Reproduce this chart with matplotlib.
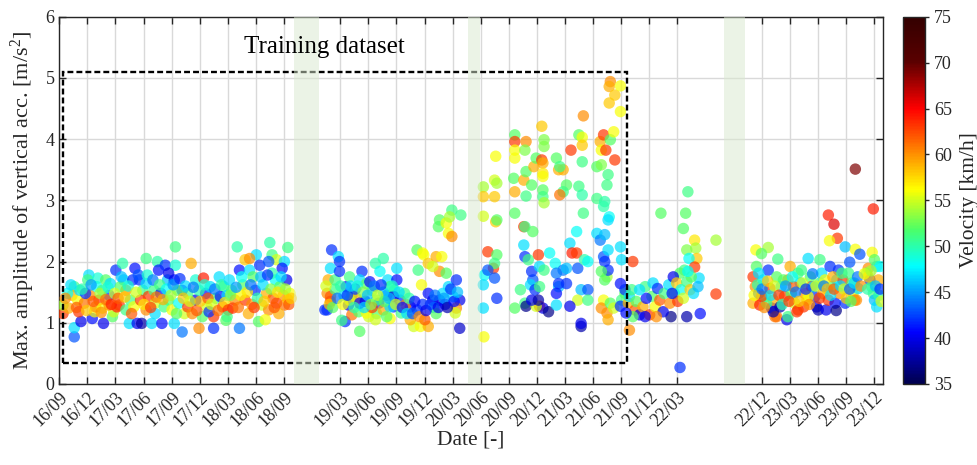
import matplotlib
matplotlib.use("Agg")
import matplotlib.pyplot as plt
from matplotlib.colors import Normalize, LinearSegmentedColormap
from matplotlib.cm import ScalarMappable
from matplotlib.patches import Rectangle
import matplotlib.transforms as mtransforms
import numpy as np

plt.rcParams['font.family'] = ['Liberation Serif', 'DejaVu Serif']
plt.rcParams['mathtext.fontset'] = 'custom'
plt.rcParams['mathtext.rm'] = 'Liberation Serif'
plt.rcParams['mathtext.it'] = 'Liberation Serif:italic'

# Measurement campaigns: (decimal year, max. vertical acceleration [m/s^2], velocity [km/h])
campaign_2016_2018 = [
    (2016.70, 1.15, 63), (2016.70, 1.29, 54), (2016.80, 0.77, 43), (2016.80, 0.92, 47),
    (2016.86, 1.02, 40), (2016.80, 1.59, 51), (2016.78, 1.45, 59), (2016.83, 1.37, 56),
    (2016.85, 1.53, 47), (2016.93, 1.78, 47), (2016.92, 1.70, 51), (2016.89, 1.32, 61),
    (2016.94, 1.45, 60), (2016.96, 1.07, 41), (2016.98, 1.18, 56), (2017.00, 1.59, 48),
    (2017.01, 1.73, 49), (2017.02, 1.37, 63), (2017.06, 0.99, 40), (2017.08, 1.70, 52),
    (2017.11, 1.45, 42), (2017.14, 1.10, 52), (2017.15, 1.18, 55), (2017.17, 1.86, 42),
    (2017.18, 1.26, 64), (2017.20, 1.29, 63), (2017.23, 1.97, 50), (2017.24, 1.70, 47),
    (2017.26, 1.53, 60), (2017.29, 0.99, 47), (2017.30, 1.37, 51), (2017.34, 1.89, 41),
    (2017.36, 0.99, 40), (2017.40, 0.99, 38), (2017.38, 1.70, 42), (2017.41, 1.53, 51),
    (2017.44, 2.05, 51), (2017.44, 1.21, 60), (2017.46, 1.43, 63), (2017.49, 0.99, 47),
    (2017.54, 2.00, 50), (2017.55, 1.86, 41), (2017.58, 0.99, 41), (2017.61, 1.94, 42),
    (2017.63, 1.70, 46), (2017.64, 1.37, 52), (2017.69, 0.99, 47), (2017.70, 1.94, 49),
    (2017.70, 2.24, 51), (2017.69, 1.70, 41), (2017.76, 0.85, 44), (2017.76, 1.53, 41),
    (2017.78, 1.15, 55), (2017.84, 1.97, 59), (2017.88, 1.70, 49), (2017.88, 1.37, 40),
    (2017.91, 0.91, 60), (2017.95, 1.73, 64), (2017.94, 1.10, 52), (2017.97, 1.48, 41),
    (2018.04, 0.91, 42), (2018.04, 1.10, 63), (2018.01, 1.59, 47), (2018.09, 1.75, 47),
    (2018.13, 1.59, 51), (2018.15, 1.04, 52), (2018.12, 1.26, 63), (2016.74, 1.48, 48),
    (2016.75, 1.24, 59), (2016.84, 1.18, 63), (2016.90, 1.48, 42), (2016.99, 1.26, 60),
    (2017.05, 1.53, 51), (2017.05, 1.24, 56), (2017.12, 1.64, 47), (2017.11, 1.29, 60),
    (2017.21, 1.59, 52), (2017.26, 1.21, 51), (2017.32, 1.70, 42), (2017.33, 1.26, 56),
    (2017.39, 1.37, 63), (2017.44, 1.64, 47), (2017.51, 1.53, 51), (2017.52, 1.32, 55),
    (2017.52, 1.15, 47), (2017.57, 1.48, 41), (2017.60, 1.26, 51), (2017.64, 1.81, 40),
    (2017.67, 1.21, 56), (2017.72, 1.53, 52), (2017.73, 1.32, 48), (2017.81, 1.26, 63),
    (2017.81, 1.48, 51), (2017.85, 1.15, 60), (2017.91, 1.53, 50), (2017.98, 1.26, 55),
    (2018.00, 1.18, 42), (2018.06, 1.40, 52), (2018.10, 1.43, 41), (2018.16, 1.45, 47),
    (2016.72, 1.40, 60), (2016.77, 1.62, 47), (2016.82, 1.25, 62), (2016.87, 1.55, 50),
    (2016.91, 1.20, 58), (2016.95, 1.62, 45), (2016.97, 1.35, 62), (2017.03, 1.48, 54),
    (2017.04, 1.17, 60), (2017.08, 1.38, 61), (2017.10, 1.58, 49), (2017.13, 1.30, 64),
    (2017.16, 1.48, 55), (2017.19, 1.40, 62), (2017.22, 1.75, 46), (2017.25, 1.42, 58),
    (2017.28, 1.60, 49), (2017.31, 1.15, 62), (2017.35, 1.50, 55), (2017.37, 1.78, 43),
    (2017.42, 1.30, 57), (2017.45, 1.78, 49), (2017.48, 1.25, 63), (2017.50, 1.70, 44),
    (2017.53, 1.42, 61), (2017.56, 1.62, 51), (2017.59, 1.38, 59), (2017.62, 1.55, 48),
    (2017.66, 1.45, 54), (2017.68, 1.62, 45), (2017.71, 1.15, 52), (2017.74, 1.72, 42),
    (2017.77, 1.40, 58), (2017.79, 1.60, 47), (2017.83, 1.35, 55), (2017.86, 1.58, 44),
    (2017.89, 1.20, 62), (2017.92, 1.35, 58), (2017.96, 1.62, 49), (2017.99, 1.40, 62),
    (2018.02, 1.30, 55), (2018.05, 1.55, 44), (2018.08, 1.20, 61), (2018.11, 1.62, 50),
    (2018.14, 1.33, 57),
    (2018.25, 2.24, 50), (2018.54, 2.31, 50), (2018.70, 2.23, 51), (2018.42, 2.11, 47),
    (2018.32, 2.03, 58), (2018.36, 2.05, 60), (2018.56, 2.11, 51), (2018.60, 2.03, 55),
    (2018.67, 2.00, 47), (2018.27, 1.86, 41), (2018.36, 1.86, 47), (2018.45, 1.94, 42),
    (2018.53, 2.00, 43), (2018.65, 1.89, 41), (2018.69, 1.70, 40), (2018.18, 1.70, 47),
    (2018.20, 1.53, 51), (2018.23, 1.37, 60), (2018.17, 1.21, 63), (2018.30, 1.62, 52),
    (2018.32, 1.37, 63), (2018.35, 1.15, 59), (2018.41, 1.53, 42), (2018.44, 1.02, 52),
    (2018.27, 0.91, 44), (2018.47, 1.29, 55), (2018.51, 1.48, 59), (2018.53, 1.21, 60),
    (2018.59, 1.70, 48), (2018.60, 1.32, 63), (2018.66, 1.45, 60), (2018.67, 1.29, 61),
    (2018.72, 1.48, 56), (2018.63, 1.59, 52), (2018.56, 1.81, 50), (2018.39, 1.75, 52),
    (2018.16, 1.10, 51), (2018.21, 1.24, 63), (2018.28, 1.45, 56), (2018.38, 1.30, 60),
    (2018.48, 1.62, 47), (2018.57, 1.40, 62), (2018.62, 1.15, 59), (2018.70, 1.38, 58),
    (2018.50, 1.05, 56), (2018.43, 1.40, 50), (2018.19, 1.45, 53), (2018.24, 1.58, 45),
    (2018.26, 1.25, 61), (2018.29, 1.75, 48), (2018.34, 1.50, 57), (2018.37, 1.62, 44),
    (2018.40, 1.25, 63), (2018.46, 1.75, 46), (2018.49, 1.35, 58), (2018.52, 1.78, 42),
    (2018.55, 1.55, 53), (2018.58, 1.25, 62), (2018.61, 1.50, 57), (2018.64, 1.75, 47),
    (2018.68, 1.55, 54), (2018.71, 1.30, 62), (2018.73, 1.40, 58),
]

campaign_2019_2020 = [
    (2019.09, 2.19, 42), (2019.15, 2.08, 47), (2019.16, 2.00, 42), (2019.08, 1.89, 47),
    (2019.06, 1.70, 59), (2019.05, 1.48, 60), (2019.08, 1.35, 63), (2019.03, 1.21, 42),
    (2019.12, 1.70, 51), (2019.16, 1.84, 42), (2019.22, 1.59, 41), (2019.25, 1.75, 51),
    (2019.27, 1.45, 52), (2019.24, 1.29, 40), (2019.21, 1.02, 42), (2019.27, 1.13, 61),
    (2019.34, 0.86, 52), (2019.31, 1.40, 59), (2019.36, 1.84, 42), (2019.34, 1.70, 47),
    (2019.40, 1.64, 52), (2019.39, 1.35, 40), (2019.42, 1.10, 55), (2019.48, 1.97, 50),
    (2019.55, 2.05, 50), (2019.52, 1.84, 48), (2019.45, 1.53, 51), (2019.51, 1.32, 42),
    (2019.49, 1.15, 52), (2019.59, 1.70, 47), (2019.58, 1.45, 41), (2019.61, 1.07, 56),
    (2019.64, 1.26, 42), (2019.67, 1.89, 47), (2019.65, 1.53, 51), (2019.33, 1.18, 52),
    (2019.18, 1.04, 51), (2019.85, 2.19, 52), (2019.91, 2.11, 56), (2019.86, 1.86, 51),
    (2019.95, 1.97, 58), (2020.02, 2.08, 59), (2020.07, 2.08, 56), (2020.05, 1.84, 60),
    (2020.11, 1.81, 52), (2019.89, 1.62, 56), (2019.99, 1.92, 55), (2020.04, 2.57, 52),
    (2020.05, 2.68, 52), (2020.11, 2.63, 56), (2020.13, 2.46, 56), (2020.16, 2.41, 60),
    (2020.16, 2.84, 51), (2020.24, 2.76, 51), (2020.13, 1.59, 47), (2020.20, 1.70, 42),
    (2020.23, 1.37, 40), (2020.23, 0.91, 39), (2020.20, 1.24, 60), (2019.95, 1.48, 41),
    (2019.99, 1.37, 40), (2020.05, 1.37, 40), (2020.08, 1.48, 47), (2020.17, 1.43, 47),
    (2020.19, 1.16, 55), (2019.85, 1.21, 42), (2019.82, 0.94, 55), (2019.88, 0.94, 56),
    (2019.79, 1.05, 59), (2019.95, 0.94, 59), (2019.79, 1.26, 40), (2019.71, 1.16, 51),
    (2019.70, 1.37, 42), (2019.74, 1.48, 51), (2019.67, 1.70, 41), (2019.61, 1.59, 52),
    (2019.43, 1.67, 41), (2019.49, 1.37, 51), (2019.55, 1.21, 59), (2019.61, 1.26, 47),
    (2019.64, 1.43, 40), (2019.08, 1.43, 62), (2019.05, 1.21, 42), (2019.25, 1.37, 55),
    (2019.34, 1.32, 40), (2019.40, 1.16, 56), (2019.48, 1.05, 55), (2019.58, 1.10, 52),
    (2019.90, 2.14, 56), (2020.14, 2.73, 54), (2019.12, 1.55, 51), (2019.20, 1.45, 47),
    (2019.30, 1.55, 42), (2019.45, 1.25, 63), (2019.55, 1.50, 47), (2019.75, 1.30, 60),
    (2019.90, 1.30, 42), (2020.00, 1.25, 47), (2020.10, 1.30, 41), (2020.15, 1.55, 42),
    (2019.92, 1.05, 62), (2020.02, 1.15, 52), (2019.04, 1.60, 55), (2019.07, 1.30, 58),
    (2019.10, 1.25, 52), (2019.14, 1.40, 44), (2019.17, 1.60, 50), (2019.19, 1.30, 56),
    (2019.23, 1.45, 42), (2019.26, 1.60, 47), (2019.29, 1.25, 50), (2019.32, 1.60, 49),
    (2019.37, 1.50, 53), (2019.38, 1.25, 47), (2019.41, 1.45, 46), (2019.44, 1.30, 53),
    (2019.47, 1.60, 44), (2019.50, 1.45, 55), (2019.53, 1.62, 42), (2019.56, 1.35, 52),
    (2019.60, 1.40, 46), (2019.63, 1.60, 49), (2019.66, 1.30, 55), (2019.69, 1.50, 47),
    (2019.72, 1.25, 41), (2019.76, 1.15, 47), (2019.78, 1.40, 50), (2019.81, 1.15, 43),
    (2019.83, 1.35, 41), (2019.87, 1.10, 60), (2019.93, 1.20, 40), (2019.97, 1.30, 42),
    (2020.01, 1.45, 44), (2020.04, 1.25, 40), (2020.09, 1.40, 45), (2020.12, 1.25, 38),
    (2020.18, 1.35, 41), (2020.21, 1.50, 46),
]

campaign_2020_2021 = [
    (2020.445, 0.77, 56), (2020.44, 1.24, 47), (2020.44, 3.22, 54), (2020.44, 3.06, 58),
    (2020.44, 2.74, 55), (2020.54, 3.06, 58), (2020.54, 3.33, 55), (2020.56, 3.28, 54),
    (2020.55, 3.72, 56), (2020.55, 2.65, 58), (2020.56, 2.68, 52), (2020.48, 2.16, 63),
    (2020.56, 2.11, 52), (2020.53, 1.89, 63), (2020.54, 1.97, 51), (2020.45, 1.78, 48),
    (2020.48, 1.86, 43), (2020.54, 1.73, 43), (2020.44, 1.62, 47), (2020.56, 1.40, 42),
    (2020.72, 4.07, 52), (2020.72, 3.96, 63), (2020.72, 3.82, 56), (2020.72, 3.69, 56),
    (2020.71, 3.36, 52), (2020.72, 3.14, 59), (2020.72, 2.79, 52), (2020.80, 2.57, 63),
    (2020.81, 2.57, 51), (2020.88, 2.49, 52), (2020.82, 3.96, 60), (2020.81, 3.82, 53),
    (2020.80, 3.33, 59), (2020.82, 3.47, 52), (2020.82, 3.07, 51), (2020.87, 3.25, 52),
    (2020.89, 3.55, 59), (2020.91, 3.69, 52), (2020.96, 4.21, 58), (2020.98, 3.99, 53),
    (2020.98, 3.88, 53), (2020.96, 3.66, 63), (2020.97, 3.61, 59), (2020.97, 3.44, 57),
    (2020.97, 3.39, 56), (2020.97, 3.17, 52), (2020.97, 3.06, 51), (2020.98, 2.96, 54),
    (2021.09, 3.69, 52), (2021.11, 3.50, 59), (2021.15, 3.50, 59), (2021.12, 3.55, 51),
    (2021.18, 3.25, 52), (2021.15, 3.14, 51), (2021.12, 3.09, 61), (2021.22, 3.82, 63),
    (2021.29, 4.07, 52), (2021.32, 4.03, 56), (2021.32, 3.90, 58), (2021.33, 4.38, 60),
    (2021.32, 3.63, 51), (2021.29, 3.23, 51), (2021.32, 3.09, 50), (2021.33, 2.79, 51),
    (2021.45, 3.55, 52), (2021.45, 3.03, 51), (2021.49, 3.58, 53), (2021.48, 3.96, 59),
    (2021.51, 4.07, 63), (2021.49, 3.82, 56), (2021.53, 3.82, 63), (2021.57, 3.99, 52),
    (2021.60, 4.12, 56), (2021.61, 3.66, 63), (2021.55, 3.42, 51), (2021.54, 3.25, 51),
    (2021.51, 2.90, 50), (2021.52, 2.98, 50), (2021.56, 2.73, 48), (2021.55, 2.68, 47),
    (2021.57, 4.94, 60), (2021.56, 4.86, 59), (2021.61, 4.72, 58), (2021.56, 4.59, 58),
    (2021.66, 4.87, 56), (2021.66, 4.45, 56), (2020.72, 1.24, 52), (2020.81, 1.32, 51),
    (2020.82, 1.27, 37), (2020.80, 2.27, 47), (2020.81, 2.08, 42), (2020.84, 2.03, 51),
    (2020.88, 1.70, 43), (2020.87, 1.84, 42), (2020.86, 1.62, 47), (2020.90, 1.54, 42),
    (2020.93, 2.11, 63), (2020.94, 1.92, 47), (2020.98, 1.86, 51), (2021.03, 2.14, 48),
    (2021.08, 1.97, 48), (2021.09, 1.81, 44), (2021.11, 1.59, 46), (2021.15, 1.86, 44),
    (2021.18, 1.89, 46), (2021.21, 2.30, 47), (2021.27, 2.49, 48), (2021.23, 2.14, 64),
    (2021.27, 2.14, 63), (2021.28, 1.89, 43), (2021.31, 1.54, 46), (2021.34, 2.03, 50),
    (2021.37, 2.00, 48), (2021.37, 1.54, 43), (2021.11, 1.64, 42), (2021.09, 1.48, 41),
    (2021.18, 1.64, 42), (2021.31, 0.94, 38), (2021.31, 0.99, 40), (2021.28, 1.37, 55),
    (2021.21, 1.27, 40), (2021.37, 1.37, 51), (2020.94, 1.27, 63), (2020.97, 1.24, 40),
    (2021.02, 1.18, 37), (2020.91, 1.27, 55), (2020.87, 1.37, 40), (2020.93, 1.37, 38),
    (2021.09, 1.29, 47), (2020.94, 1.59, 51), (2020.77, 1.54, 51), (2021.45, 2.46, 47),
    (2021.48, 2.35, 44), (2021.52, 2.44, 46), (2021.51, 2.08, 43), (2021.55, 2.19, 47),
    (2021.52, 2.00, 42), (2021.54, 1.75, 54), (2021.52, 1.70, 52), (2021.55, 1.86, 42),
    (2021.49, 1.84, 52), (2021.66, 2.24, 47), (2021.66, 1.64, 41), (2021.67, 2.03, 47),
    (2021.51, 1.37, 56), (2021.49, 1.24, 60), (2021.54, 1.16, 60), (2021.55, 1.05, 59),
    (2021.57, 1.32, 52), (2021.60, 1.24, 55), (2021.67, 1.37, 51), (2021.66, 1.27, 42),
    (2021.70, 1.48, 52),
]

campaign_2021_2022 = [
    (2021.74, 0.88, 60), (2021.77, 2.00, 63), (2022.26, 3.14, 51), (2022.02, 2.79, 52),
    (2022.24, 2.79, 52), (2022.22, 2.54, 52), (2022.51, 2.35, 54), (2022.32, 2.35, 57),
    (2022.33, 2.22, 54), (2022.25, 2.19, 53), (2022.34, 2.05, 58), (2022.27, 2.05, 48),
    (2022.32, 1.91, 63), (2022.23, 1.86, 51), (2022.36, 1.73, 47), (2022.19, 1.81, 52),
    (2022.51, 1.47, 63), (2022.37, 1.15, 41), (2022.25, 1.10, 38), (2022.11, 1.10, 37),
    (2022.19, 0.27, 42), (2021.70, 1.54, 42), (2021.73, 1.32, 59), (2021.74, 1.43, 47),
    (2021.79, 1.21, 62), (2021.80, 1.35, 52), (2021.83, 1.13, 40), (2021.86, 1.26, 59),
    (2021.88, 1.59, 51), (2021.92, 1.13, 63), (2021.94, 1.43, 52), (2021.95, 1.65, 47),
    (2021.97, 1.26, 56), (2021.99, 1.56, 42), (2022.01, 1.37, 62), (2022.04, 1.18, 40),
    (2022.05, 1.48, 51), (2022.09, 1.62, 47), (2022.10, 1.32, 60), (2022.13, 1.75, 40),
    (2022.14, 1.48, 52), (2022.16, 1.65, 58), (2022.17, 1.35, 63), (2022.20, 1.54, 48),
    (2022.22, 1.40, 55), (2022.25, 1.67, 51), (2022.28, 1.54, 58), (2022.29, 1.75, 52),
    (2022.31, 1.48, 47), (2022.35, 1.59, 46), (2022.26, 1.84, 48), (2021.89, 1.40, 41),
    (2021.77, 1.10, 52), (2021.98, 1.10, 60), (2021.88, 1.10, 40), (2021.71, 1.16, 41),
    (2021.76, 1.54, 51), (2021.83, 1.54, 47), (2022.12, 1.48, 41),
]

campaign_2022_2023 = [
    (2023.75, 3.51, 69), (2023.91, 2.86, 64), (2023.51, 2.76, 64), (2023.56, 2.61, 66),
    (2023.59, 2.38, 63), (2023.52, 2.34, 56), (2023.66, 2.24, 46), (2023.75, 2.20, 56),
    (2023.79, 2.12, 43), (2023.90, 2.15, 56), (2022.865, 2.19, 56), (2022.975, 2.23, 54),
    (2022.915, 2.13, 52), (2023.06, 2.04, 51), (2023.70, 1.99, 43), (2022.87, 1.92, 52),
    (2023.33, 2.05, 47), (2023.435, 2.03, 51), (2023.865, 1.89, 60), (2023.94, 1.92, 47),
    (2023.92, 2.03, 52), (2022.84, 1.75, 63), (2022.86, 1.59, 60), (2022.84, 1.32, 59),
    (2022.89, 1.48, 42), (2022.90, 1.29, 64), (2022.93, 1.70, 47), (2022.95, 1.43, 51),
    (2022.975, 1.86, 42), (2022.99, 1.56, 63), (2023.005, 1.24, 40), (2023.02, 1.37, 59),
    (2023.05, 1.75, 52), (2023.05, 1.10, 61), (2023.08, 1.26, 38), (2023.09, 1.59, 47),
    (2023.12, 1.43, 63), (2023.14, 1.05, 40), (2023.15, 1.70, 60), (2023.17, 1.92, 59),
    (2023.18, 1.48, 52), (2023.21, 1.32, 55), (2023.24, 1.21, 63), (2023.26, 1.65, 47),
    (2023.27, 1.86, 51), (2023.30, 1.48, 60), (2023.32, 1.37, 56), (2023.35, 1.75, 52),
    (2023.36, 1.59, 63), (2023.39, 1.43, 42), (2023.405, 1.26, 40), (2023.42, 1.21, 38),
    (2023.435, 1.65, 51), (2023.45, 1.81, 47), (2023.46, 1.48, 59), (2023.49, 1.21, 40),
    (2023.51, 1.37, 63), (2023.525, 1.92, 42), (2023.54, 1.59, 52), (2023.57, 1.32, 41),
    (2023.585, 1.70, 47), (2023.60, 1.86, 42), (2023.61, 1.48, 60), (2023.64, 1.70, 63),
    (2023.66, 1.32, 42), (2023.69, 1.81, 51), (2023.72, 1.65, 52), (2023.73, 1.48, 55),
    (2023.745, 1.37, 60), (2023.775, 1.56, 47), (2023.76, 1.37, 60), (2023.85, 1.81, 52),
    (2023.88, 1.70, 42), (2023.895, 1.59, 52), (2023.91, 1.48, 51), (2023.92, 1.37, 46),
    (2023.94, 1.26, 47), (2023.97, 1.92, 48), (2023.955, 1.70, 59), (2023.865, 1.75, 58),
    (2023.035, 1.10, 61), (2023.15, 1.10, 51), (2023.23, 1.18, 63), (2023.02, 1.18, 38),
    (2022.96, 1.32, 51), (2023.29, 1.26, 63), (2023.33, 1.43, 56), (2023.375, 1.59, 47),
    (2023.20, 1.59, 62), (2023.11, 1.70, 52), (2023.24, 1.81, 51), (2023.48, 1.70, 56),
    (2023.55, 1.75, 59), (2023.63, 1.81, 51), (2022.89, 1.81, 47), (2022.915, 1.43, 63),
    (2022.85, 1.45, 56), (2022.88, 1.62, 50), (2022.92, 1.55, 44), (2022.94, 1.25, 60),
    (2022.97, 1.68, 58), (2023.00, 1.45, 47), (2023.03, 1.60, 55), (2023.07, 1.45, 63),
    (2023.10, 1.30, 50), (2023.13, 1.60, 45), (2023.16, 1.35, 63), (2023.19, 1.75, 48),
    (2023.22, 1.50, 44), (2023.25, 1.35, 58), (2023.28, 1.65, 55), (2023.31, 1.55, 42),
    (2023.34, 1.30, 60), (2023.37, 1.80, 44), (2023.40, 1.60, 55), (2023.43, 1.40, 63),
    (2023.47, 1.60, 44), (2023.50, 1.55, 58), (2023.53, 1.45, 47), (2023.56, 1.55, 62),
    (2023.58, 1.20, 37), (2023.62, 1.60, 47), (2023.65, 1.55, 55), (2023.67, 1.40, 58),
    (2023.70, 1.55, 43), (2023.71, 1.35, 52), (2023.74, 1.65, 47), (2023.77, 1.75, 44),
    (2023.80, 1.60, 60), (2023.83, 1.80, 56), (2023.86, 1.55, 50), (2023.89, 1.85, 54),
    (2023.93, 1.60, 46), (2023.96, 1.45, 50), (2023.98, 1.35, 55), (2023.97, 1.55, 42),
]

# Periods without measurements (shaded)
gap_periods = [(2018.755, 2018.978), (2020.306, 2020.41), (2022.581, 2022.767)]

# Training window
train_start, train_end = 2016.697, 2021.715
train_low, train_high = 0.35, 5.10

tick_labels = ['16/09', '16/12', '17/03', '17/06', '17/09', '17/12', '18/03', '18/06',
               '18/09', '19/03', '19/06', '19/09', '19/12', '20/03', '20/06', '20/09',
               '20/12', '21/03', '21/06', '21/09', '21/12', '22/03', '22/12', '23/03',
               '23/06', '23/09', '23/12']

vel_min, vel_max = 35, 75


def label_to_year(lbl):
    yy, mm = lbl.split('/')
    return 2000 + int(yy) + (int(mm) - 1) / 12.0


# jet-like map running from navy through blue, cyan, green, yellow, red to deep maroon
vel_cmap = LinearSegmentedColormap.from_list('velocity', [
    (0.00, (0.00, 0.00, 0.30)),
    (0.14, (0.00, 0.00, 1.00)),
    (0.32, (0.00, 1.00, 1.00)),
    (0.42, (0.30, 1.00, 0.40)),
    (0.53, (1.00, 1.00, 0.00)),
    (0.75, (1.00, 0.00, 0.00)),
    (0.88, (0.35, 0.00, 0.00)),
    (1.00, (0.20, 0.00, 0.00)),
], N=256)

campaigns = [campaign_2016_2018, campaign_2019_2020, campaign_2020_2021,
             campaign_2021_2022, campaign_2022_2023]
rows = np.array([r for c in campaigns for r in c], dtype=float)
years, amps, vels = rows[:, 0], rows[:, 1], rows[:, 2]

fig = plt.figure(figsize=(9.78, 4.65), dpi=100)
ax = fig.add_axes([0.0606, 0.1742, 0.8419, 0.7899])
cax = fig.add_axes([0.9230, 0.1742, 0.0228, 0.7899])

ink = '#262626'
norm = Normalize(vmin=vel_min, vmax=vel_max)

ax.scatter(years, amps, c=vels, cmap=vel_cmap, norm=norm, s=68, alpha=0.7,
           edgecolors='none', zorder=3)

ax.add_patch(Rectangle((train_start, train_low), train_end - train_start,
                       train_high - train_low, fill=False, edgecolor='black',
                       linewidth=1.7, linestyle=(0, (2.5, 1.3)), zorder=4))
for a, b in gap_periods:
    ax.axvspan(a, b, color=(0.85, 0.915, 0.81), alpha=0.5, linewidth=0, zorder=5)

ax.text(2019.03, 5.51, 'Training dataset', ha='center', va='center',
        fontsize=18, color='black', zorder=6)

ax.set_xlim(label_to_year('16/09'), 2023.993)
ax.set_ylim(0, 6)
ax.set_xticks([label_to_year(l) for l in tick_labels])
ax.set_xticklabels(tick_labels, rotation=45, ha='right', va='top',
                   rotation_mode='anchor')
ax.set_yticks(np.arange(0, 7, 1))

shift = mtransforms.ScaledTranslation(5 / 100, -3 / 100, fig.dpi_scale_trans)
for lbl in ax.get_xticklabels():
    lbl.set_transform(lbl.get_transform() + shift)

ax.grid(True, color='#d9d9d9', linewidth=1.0)
ax.set_axisbelow(True)
ax.tick_params(direction='in', top=True, right=True, length=5, width=1,
               color=ink, labelcolor=ink, labelsize=13)
for sp in ax.spines.values():
    sp.set_color(ink)
    sp.set_linewidth(1.0)

ax.set_xlabel('Date [-]', fontsize=15.5, color=ink, labelpad=0)
ax.set_ylabel('Max. amplitude of vertical acc. [m/s$^2$]', fontsize=16,
              color=ink, labelpad=6)

cb = fig.colorbar(ScalarMappable(norm=norm, cmap=vel_cmap), cax=cax)
cb.set_ticks(np.arange(vel_min, vel_max + 1, 5))
cb.ax.tick_params(direction='out', length=3, width=1, color=ink,
                  labelcolor=ink, labelsize=13)
cb.outline.set_edgecolor(ink)
cb.outline.set_linewidth(1.0)
cb.set_label('Velocity [km/h]', fontsize=15.5, color=ink, labelpad=6)

fig.savefig('out.png', dpi=100)
